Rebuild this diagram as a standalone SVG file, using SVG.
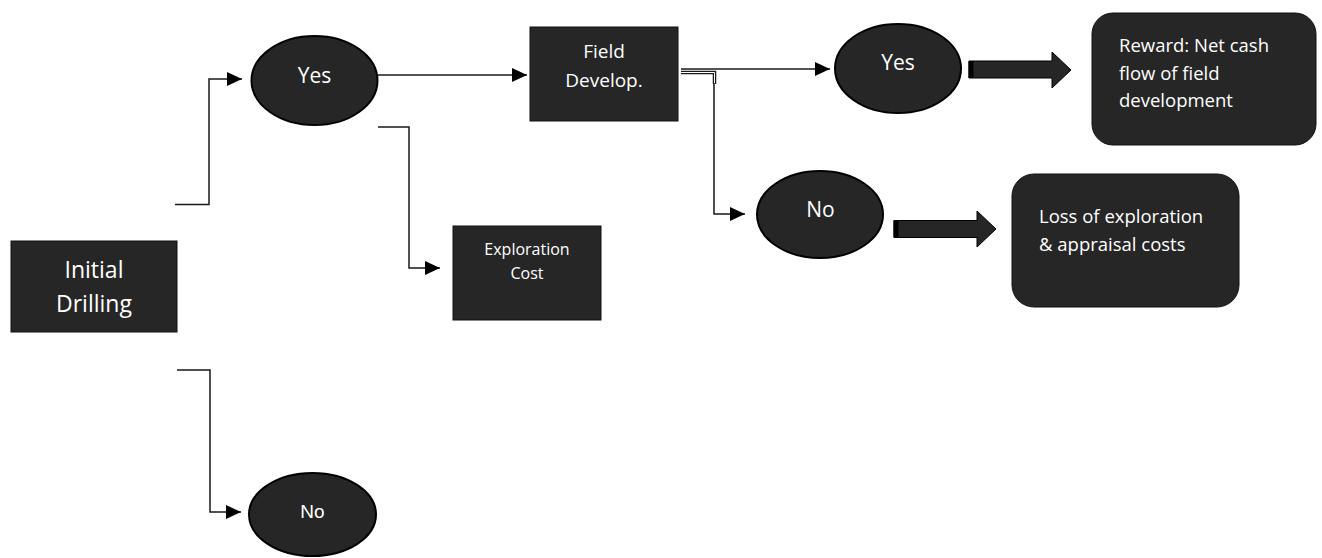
<svg xmlns="http://www.w3.org/2000/svg" width="1322" height="558" viewBox="0 0 1322 558">
  <style>
    .box { fill: #262626; stroke: #111; stroke-width: 1; }
    .ell { fill: #262626; stroke: #000; stroke-width: 2; }
    .t { fill: #ffffff; font-family: "Open Sans", "Liberation Sans", sans-serif; }
    .mid { text-anchor: middle; }
    .conn { fill: none; stroke: #1a1a1a; stroke-width: 1.5; }
    .barrow { fill: #262626; stroke: #000; stroke-width: 1; }
  </style>
  <defs>
    <marker id="ah" markerUnits="userSpaceOnUse" markerWidth="15" markerHeight="14" refX="15" refY="7" orient="auto">
      <path d="M0,0 L15,7 L0,14 z" fill="#000"/>
    </marker>
  </defs>
  <rect width="1322" height="558" fill="#ffffff"/>

  <g id="connectors">
    <path class="conn" d="M175,204.5 H209 V79 H242" marker-end="url(#ah)"/>
    <path class="conn" d="M378,127 H409 V268 H440" marker-end="url(#ah)"/>
    <path class="conn" d="M378,75 H527" marker-end="url(#ah)"/>
    <path class="conn" d="M681,69 H830" marker-end="url(#ah)"/>
    <path fill="none" stroke="#1a1a1a" stroke-width="3.5" d="M681,72.5 H714.5 V84"/>
    <path fill="none" stroke="#ffffff" stroke-width="1" d="M681,72.5 H714.5 V85"/>
    <path class="conn" d="M714,83 V214 H745" marker-end="url(#ah)"/>
    <path class="conn" d="M177,370 H210 V512 H241" marker-end="url(#ah)"/>
  </g>

  <g id="initial-drilling">
    <rect class="box" x="11" y="241" width="166" height="91"/>
    <text class="t mid" x="94" y="278" font-size="23">Initial</text>
    <text class="t mid" x="94" y="312" font-size="23">Drilling</text>
  </g>

  <g id="yes1">
    <ellipse class="ell" cx="314.5" cy="80.5" rx="63" ry="44.5"/>
    <text class="t mid" x="314.5" y="83" font-size="21">Yes</text>
  </g>

  <g id="field-develop">
    <rect class="box" x="530" y="27" width="148" height="94"/>
    <text class="t mid" x="604" y="58" font-size="19">Field</text>
    <text class="t mid" x="604" y="87" font-size="19">Develop.</text>
  </g>

  <g id="exploration-cost">
    <rect class="box" x="453" y="226" width="148" height="94"/>
    <text class="t mid" x="527" y="255" font-size="16">Exploration</text>
    <text class="t mid" x="527" y="279" font-size="16">Cost</text>
  </g>

  <g id="yes2">
    <ellipse class="ell" cx="898" cy="68.5" rx="63" ry="44.5"/>
    <text class="t mid" x="898" y="70" font-size="21">Yes</text>
  </g>

  <g id="no-mid">
    <ellipse class="ell" cx="820" cy="214.5" rx="63" ry="43.5"/>
    <text class="t mid" x="820.5" y="217" font-size="21">No</text>
  </g>

  <g id="no-bottom">
    <ellipse class="ell" cx="312.5" cy="514.5" rx="63.5" ry="41.5"/>
    <text class="mid" x="312.5" y="518" font-size="19" fill="#ffffff" font-family="Liberation Sans, Arial, sans-serif">No</text>
  </g>

  <g id="arrow-yes-reward">
    <path class="barrow" d="M969,61 H1052 V52 L1071,70 L1052,88 V78 H969 Z"/>
    <rect x="968.5" y="61" width="5" height="17" fill="#000"/>
  </g>

  <g id="arrow-no-loss">
    <path class="barrow" d="M894,220.5 H977 V211 L996,229 L977,247 V237.5 H894 Z"/>
    <rect x="893.5" y="220.5" width="5" height="17" fill="#000"/>
  </g>

  <g id="reward">
    <rect class="box" x="1092" y="13" width="224" height="132" rx="21" ry="21"/>
    <text class="t" x="1119" y="52" font-size="18.5">Reward: Net cash</text>
    <text class="t" x="1119" y="79.5" font-size="18.5">flow of field</text>
    <text class="t" x="1119" y="107" font-size="18.5">development</text>
  </g>

  <g id="loss">
    <rect class="box" x="1012" y="174" width="227" height="133" rx="22" ry="22"/>
    <text class="t" x="1039" y="223" font-size="18.5">Loss of exploration</text>
    <text class="t" x="1039" y="251" font-size="18.5">&amp; appraisal costs</text>
  </g>
</svg>
